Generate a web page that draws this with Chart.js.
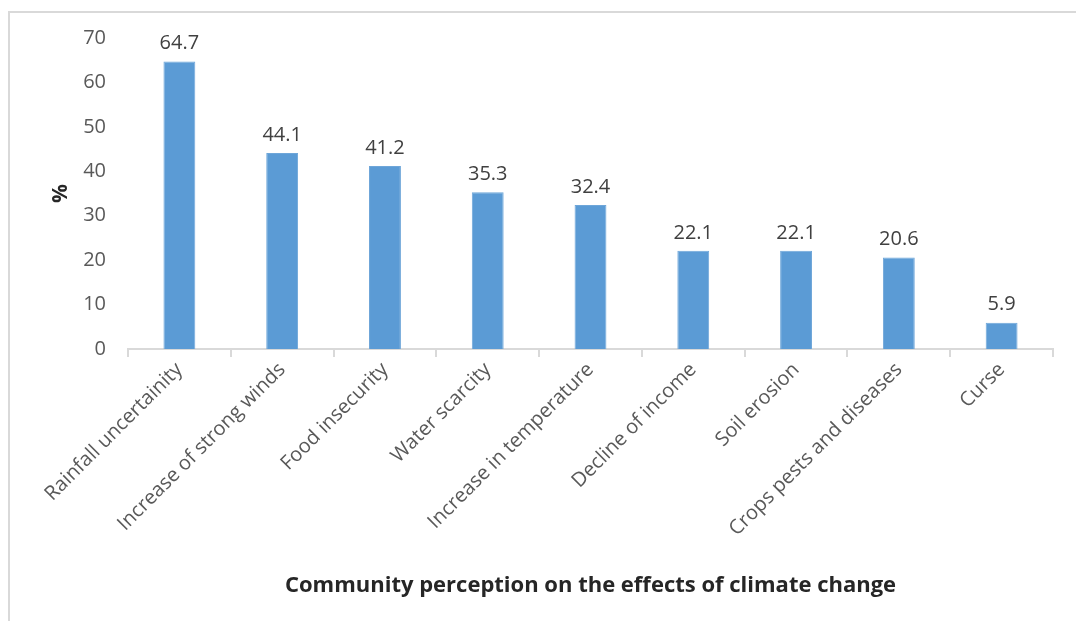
<!DOCTYPE html>
<html>
<head>
<meta charset="utf-8">
<script src="https://cdn.jsdelivr.net/npm/chart.js@4"></script>
<style>
  html, body { margin: 0; padding: 0; background: #fff; }
  #wrap { position: relative; width: 1076px; height: 621px; overflow: hidden; }
  #frame { position: absolute; left: 8px; top: 11px; width: 1200px; height: 700px;
           border-left: 2px solid #d9d9d9; border-top: 2px solid #d9d9d9; }
  canvas { position: absolute; left: 0; top: 0; }
</style>
</head>
<body>
<div id="wrap">
  <div id="frame"></div>
  <canvas id="chart" width="1076" height="621"></canvas>
</div>
<script>
// Community perception on the effects of climate change (%)
const categories = [
  'Rainfall uncertainity', 'Increase of strong winds', 'Food insecurity',
  'Water scarcity', 'Increase in temperature', 'Decline of income',
  'Soil erosion', 'Crops pests and diseases', 'Curse'
];
const percents = [64.7, 44.1, 41.2, 35.3, 32.4, 22.1, 22.1, 20.6, 5.9];
const yTicks = [0, 10, 20, 30, 40, 50, 60, 70];

const fontFamily = '"Open Sans", Lato, sans-serif';
const textGrey = '#595959';

// value labels above each bar
const barValues = {
  id: 'barValues',
  afterDatasetsDraw(chart) {
    const ctx = chart.ctx;
    const meta = chart.getDatasetMeta(0);
    ctx.save();
    ctx.font = '20px ' + fontFamily;
    ctx.fillStyle = '#404040';
    ctx.textAlign = 'center';
    ctx.textBaseline = 'bottom';
    meta.data.forEach((bar, i) => {
      ctx.fillText(percents[i].toFixed(1), bar.x, bar.y - 8);
    });
    ctx.restore();
  }
};

new Chart(document.getElementById('chart'), {
  type: 'bar',
  data: {
    labels: categories,
    datasets: [{
      data: percents,
      backgroundColor: '#5b9bd5',
      borderColor: '#6ea6d9',
      borderWidth: 1,
      categoryPercentage: 0.31,
      barPercentage: 1
    }]
  },
  options: {
    responsive: false,
    animation: false,
    layout: { padding: { left: 40, top: 38, right: 23, bottom: 12 } },
    plugins: { legend: { display: false }, tooltip: { enabled: false } },
    scales: {
      x: {
        grid: { offset: true, drawOnChartArea: false, drawTicks: true, tickLength: 8, color: '#d9d9d9', lineWidth: 2 },
        border: { color: '#d9d9d9', width: 2 },
        ticks: { color: textGrey, font: { size: 20, family: fontFamily }, minRotation: 45, maxRotation: 45, padding: 1 },
        title: { display: true, text: 'Community perception on the effects of climate change',
                 color: '#262626', font: { size: 22, weight: 'bold', family: fontFamily }, padding: { top: 10, bottom: 10 } },
        afterFit(scale) { scale.height = 260; }
      },
      y: {
        min: 0, max: 70,
        grid: { display: false, drawTicks: false },
        border: { display: false },
        afterBuildTicks(scale) { scale.ticks = yTicks.map(v => ({ value: v })); },
        ticks: { color: textGrey, font: { size: 20, family: fontFamily }, padding: 22 },
        title: { display: true, text: '%', color: '#262626', font: { size: 21, weight: 'bold', family: fontFamily }, padding: { top: 8, bottom: 0 } },
        afterFit(scale) { scale.width = 88; }
      }
    }
  },
  plugins: [barValues]
});
</script>
</body>
</html>
